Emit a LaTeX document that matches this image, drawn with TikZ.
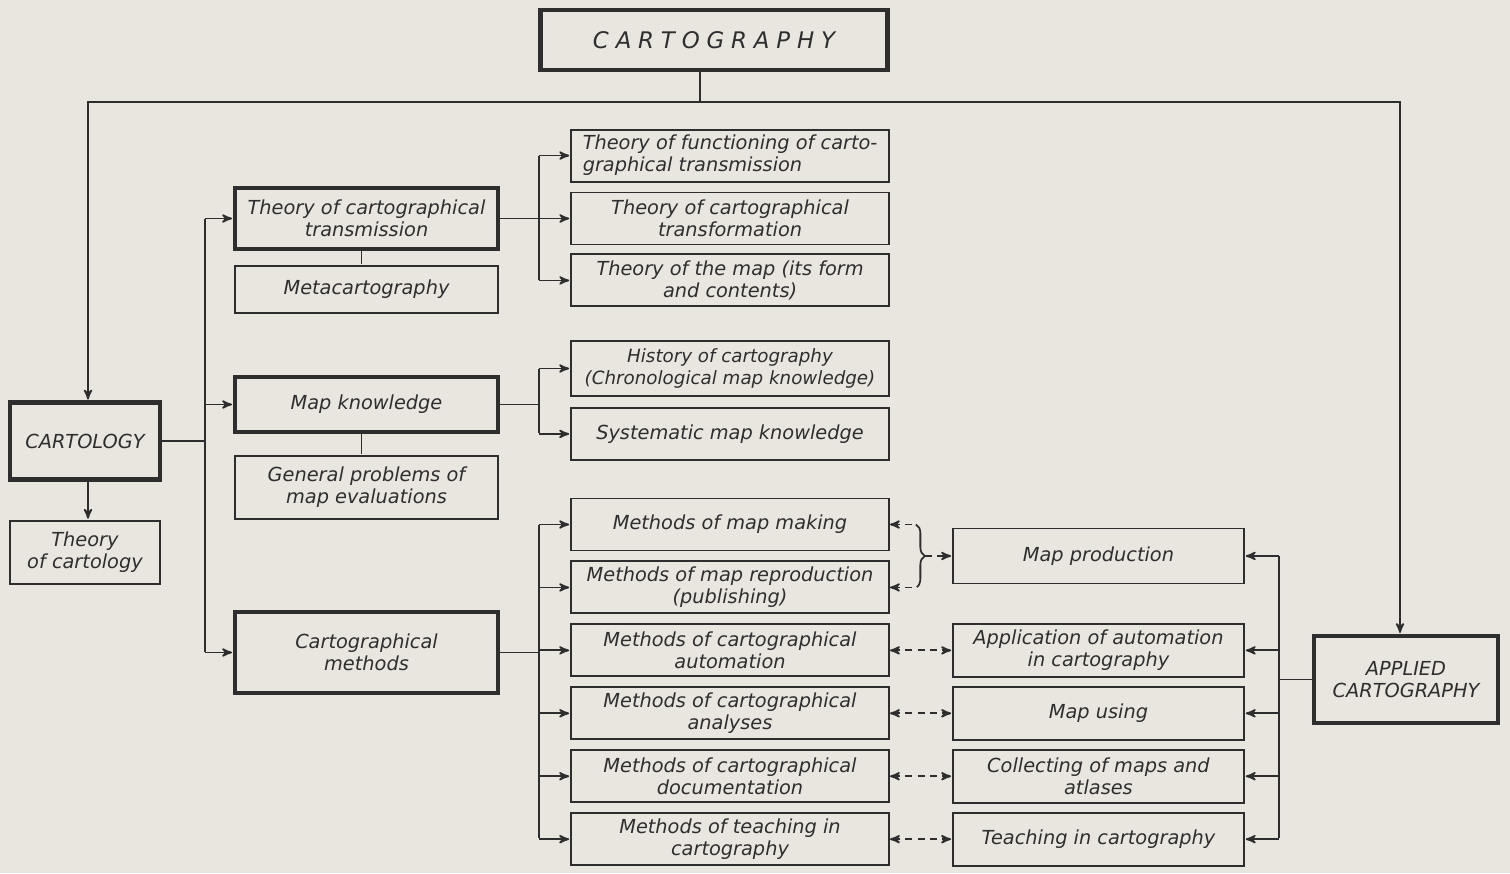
\documentclass[tikz,border=0pt]{standalone}
\usepackage{fontspec}
\setsansfont{DejaVu Sans}
\usetikzlibrary{positioning,arrows,calc,decorations.pathreplacing}
\definecolor{paper}{HTML}{E9E6DF}
\definecolor{ink}{HTML}{2E2E2E}
\newcommand\lettering{\sffamily\itshape\fontsize{11}{12.5}\selectfont}

\begin{document}
\begin{tikzpicture}[
        root/.style={
                rectangle,
                draw=ink,
                line width=2.4pt,
                fill=paper,
                text=ink,
                align=center,
                minimum width=69.4mm,
                minimum height=12mm,
            },
        field/.style={
                rectangle,
                draw=ink,
                line width=2.4pt,
                fill=paper,
                text=ink,
                align=center,
                inner sep=1pt,
            },
        branch/.style={
                rectangle,
                draw=ink,
                line width=2.4pt,
                fill=paper,
                text=ink,
                align=center,
                inner sep=1pt,
                minimum width=52.6mm,
            },
        note/.style={
                rectangle,
                draw=ink,
                line width=1.1pt,
                fill=paper,
                text=ink,
                align=center,
                inner sep=1pt,
                minimum width=52.6mm,
            },
        topic/.style={
                rectangle,
                draw=ink,
                line width=1.1pt,
                fill=paper,
                text=ink,
                align=center,
                inner sep=1pt,
                minimum width=63.6mm,
                minimum height=10.4mm,
            },
        practice/.style={
                rectangle,
                draw=ink,
                line width=1.1pt,
                fill=paper,
                text=ink,
                align=center,
                inner sep=1pt,
                minimum width=58.2mm,
                minimum height=10.6mm,
            },
        link/.style={draw=ink, line width=1pt},
        dlink/.style={draw=ink, line width=1pt, dash pattern=on 4pt off 3pt},
        >= stealth',
        shorten >= 0.5pt
    ]
    \fill[paper] (0,0) rectangle (30.2,-17.46);

    \node[root,font=\sffamily\itshape\fontsize{13}{15}\selectfont] (cartography) at (14.28,-0.8) {\addfontfeatures{LetterSpace=30}CARTOGRAPHY};
    \node[field,font=\lettering,minimum width=30mm,minimum height=15.4mm] (cartology) at (1.7,-8.82) {CARTOLOGY};
    \node[note,font=\lettering,minimum width=30mm,minimum height=12.6mm] (cartologytheory) [below=0.76cm of cartology] {Theory\\of cartology};
    \node[field,font=\lettering,minimum width=36.8mm,minimum height=17.4mm] (applied) at (28.12,-13.59) {APPLIED\\CARTOGRAPHY};

    \node[branch,font=\lettering,minimum height=12.2mm] (transmission) at (7.33,-4.37) {Theory of cartographical\\transmission};
    \node[note,font=\lettering,minimum height=9.4mm] (metacarto) [below=0.28cm of transmission] {Metacartography};
    \node[branch,font=\lettering,minimum height=11mm] (mapknow) at (7.33,-8.09) {Map knowledge};
    \node[note,font=\lettering,minimum height=12.6mm] (evaluation) [below=0.42cm of mapknow] {General problems of\\map evaluations};
    \node[branch,font=\lettering,minimum height=16.2mm] (methods) at (7.33,-13.05) {Cartographical\\methods};

    \node[topic,font=\lettering] (transformation) [right=1.4cm of transmission] {Theory of cartographical\\transformation};
    \node[topic,font=\lettering,align=left] (functioning) [above=0.18cm of transformation] {Theory of functioning of carto-\\graphical transmission};
    \node[topic,font=\lettering] (themap) [below=0.16cm of transformation] {Theory of the map (its form\\and contents)};
    \node[topic,font=\sffamily\itshape\fontsize{10.4}{12.5}\selectfont,minimum height=11mm] (history) at (14.6,-7.37) {History of cartography\\(Chronological map knowledge)};
    \node[topic,font=\lettering] (systematic) [below=0.2cm of history] {Systematic map knowledge};

    \node[topic,font=\lettering] (making) at (14.6,-10.49) {Methods of map making};
    \node[topic,font=\lettering] (reproduction) [below=0.18cm of making] {Methods of map reproduction\\(publishing)};
    \node[topic,font=\lettering] (automation) [below=0.18cm of reproduction] {Methods of cartographical\\automation};
    \node[topic,font=\lettering] (analyses) [below=0.18cm of automation] {Methods of cartographical\\analyses};
    \node[topic,font=\lettering] (documentation) [below=0.18cm of analyses] {Methods of cartographical\\documentation};
    \node[topic,font=\lettering] (teachmethods) [below=0.18cm of documentation] {Methods of teaching in\\cartography};

    \coordinate (pairmid) at ($(making.east)!0.5!(reproduction.east)$);
    \node[practice,font=\lettering,minimum height=11mm] (production) [right=1.24cm of pairmid] {Map production};
    \node[practice,font=\lettering] (application) [right=1.24cm of automation] {Application of automation\\in cartography};
    \node[practice,font=\lettering] (mapusing) [right=1.24cm of analyses] {Map using};
    \node[practice,font=\lettering] (collecting) [right=1.24cm of documentation] {Collecting of maps and\\atlases};
    \node[practice,font=\lettering] (teaching) [right=1.24cm of teachmethods] {Teaching in cartography};

    \draw[link] ([xshift=-0.28cm]cartography.south) -- ++(0,-0.6) coordinate (topbus);
    \draw[link,->] (topbus) -| ([xshift=0.06cm]cartology.north);
    \draw[link,->] (topbus) -| ([xshift=-0.12cm]applied.north);
    \draw[link,->] ([xshift=0.06cm]cartology.south) -- ([xshift=0.06cm]cartologytheory.north);

    \draw[link] (cartology.east) -- ++(0.86,0) coordinate (leftbus);
    \draw[link] (leftbus |- transmission.west) -- (leftbus |- methods.west);
    \foreach \b in {transmission,mapknow,methods}
        \draw[link,->] (leftbus |- \b.west) -- (\b.west);
    \draw[link] ([xshift=-0.1cm]transmission.south) -- ([xshift=-0.1cm]metacarto.north);
    \draw[link] ([xshift=-0.1cm]mapknow.south) -- ([xshift=-0.1cm]evaluation.north);

    \draw[link] (transmission.east) -- ++(0.78,0) coordinate (theorybus);
    \draw[link] (theorybus |- functioning.west) -- (theorybus |- themap.west);
    \foreach \t in {functioning,transformation,themap}
        \draw[link,->] (theorybus |- \t.west) -- (\t.west);

    \draw[link] (mapknow.east) -- ++(0.78,0) coordinate (knowbus);
    \draw[link] (knowbus |- history.west) -- (knowbus |- systematic.west);
    \foreach \t in {history,systematic}
        \draw[link,->] (knowbus |- \t.west) -- (\t.west);

    \draw[link] (methods.east) -- ++(0.78,0) coordinate (methodbus);
    \draw[link] (methodbus |- making.west) -- (methodbus |- teachmethods.west);
    \foreach \t in {making,reproduction,automation,analyses,documentation,teachmethods}
        \draw[link,->] (methodbus |- \t.west) -- (\t.west);

    \draw[link] (applied.west) -- ++(-0.66,0) coordinate (rightbus);
    \draw[link] (rightbus |- production.east) -- (rightbus |- teaching.east);
    \foreach \p in {production,application,mapusing,collecting,teaching}
        \draw[link,->] (rightbus |- \p.east) -- (\p.east);

    \draw[dlink,<-] (making.east) -- ++(0.52,0) coordinate (braceup);
    \draw[dlink,<-] (reproduction.east) -- ++(0.52,0) coordinate (bracelow);
    \draw[link,decorate,decoration={brace,amplitude=5pt}] (braceup) -- (bracelow);
    \coordinate (bracetip) at ($(braceup)!0.5!(bracelow)+(0.18,0)$);
    \draw[dlink,->] (bracetip) -- (production.west);
    \foreach \a/\b in {automation/application,analyses/mapusing,documentation/collecting,teachmethods/teaching}
        \draw[dlink,<->] (\a) -- (\b);
\end{tikzpicture}
\end{document}
